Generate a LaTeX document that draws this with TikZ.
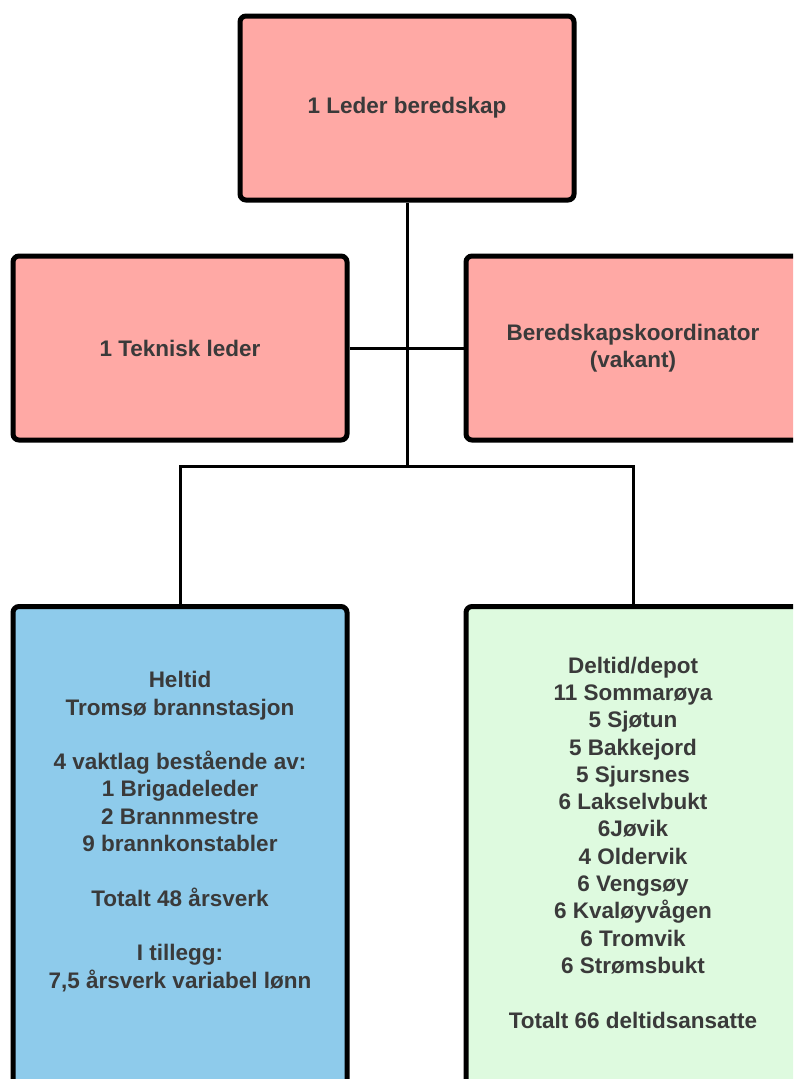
\documentclass[tikz,border=0pt]{standalone}
\usepackage{fontspec}
\setmainfont{Liberation Sans}
\definecolor{pinkfill}{HTML}{FFA9A5}
\definecolor{bluefill}{HTML}{8ECBEB}
\definecolor{greenfill}{HTML}{DEFADF}
\definecolor{txt}{HTML}{3A3A3A}
\begin{document}
\begin{tikzpicture}[x=1pt,y=-1pt,
  orgbox/.style={draw=black, line width=5pt, rounded corners=6pt,
    minimum width=334pt, minimum height=184pt, inner sep=0pt,
    align=center, text=txt, font=\bfseries\fontsize{22.5}{27.3}\selectfont},
  tallbox/.style={orgbox, minimum height=500pt},
  bodytext/.style={align=center, text=txt, inner sep=0pt,
    font=\bfseries\fontsize{22.5}{27.3}\selectfont},
  link/.style={draw=black, line width=3pt}]
\useasboundingbox (0,0) rectangle (793,1079);
\clip (0,0) rectangle (793,1079);
\fill[white] (0,0) rectangle (793,1079);

\node[orgbox, fill=pinkfill] (lead) at (407,108) {1 Leder beredskap};
\node[orgbox, fill=pinkfill] (tek) at (180,348) {1 Teknisk leder};
\node[orgbox, fill=pinkfill] (koord) at (633,348) {Beredskapskoordinator\\(vakant)};
\node[tallbox, fill=bluefill] (heltid) at (180,856.5) {};
\node[tallbox, fill=greenfill] (deltid) at (633,856.5) {};

\node[bodytext] (heltidtxt) at (180,831.5) {Heltid\\Tromsø brannstasjon\\[27.3pt]4 vaktlag bestående av:\\1 Brigadeleder\\2 Brannmestre\\9 brannkonstabler\\[27.3pt]Totalt 48 årsverk\\[27.3pt]I tillegg:\\7,5 årsverk variabel lønn};
\node[bodytext] (deltidtxt) at (633,842.5) {Deltid/depot\\11 Sommarøya\\5 Sjøtun\\5 Bakkejord\\5 Sjursnes\\6 Lakselvbukt\\6Jøvik\\4 Oldervik\\6 Vengsøy\\6 Kvaløyvågen\\6 Tromvik\\6 Strømsbukt\\[27.3pt]Totalt 66 deltidsansatte};

\coordinate (j) at (407,466);
\draw[link] (lead.south) -- (j);
\draw[link] (tek.east) -- (koord.west);
\draw[link] (heltid.north) |- (j) -| (deltid.north);
\end{tikzpicture}
\end{document}
